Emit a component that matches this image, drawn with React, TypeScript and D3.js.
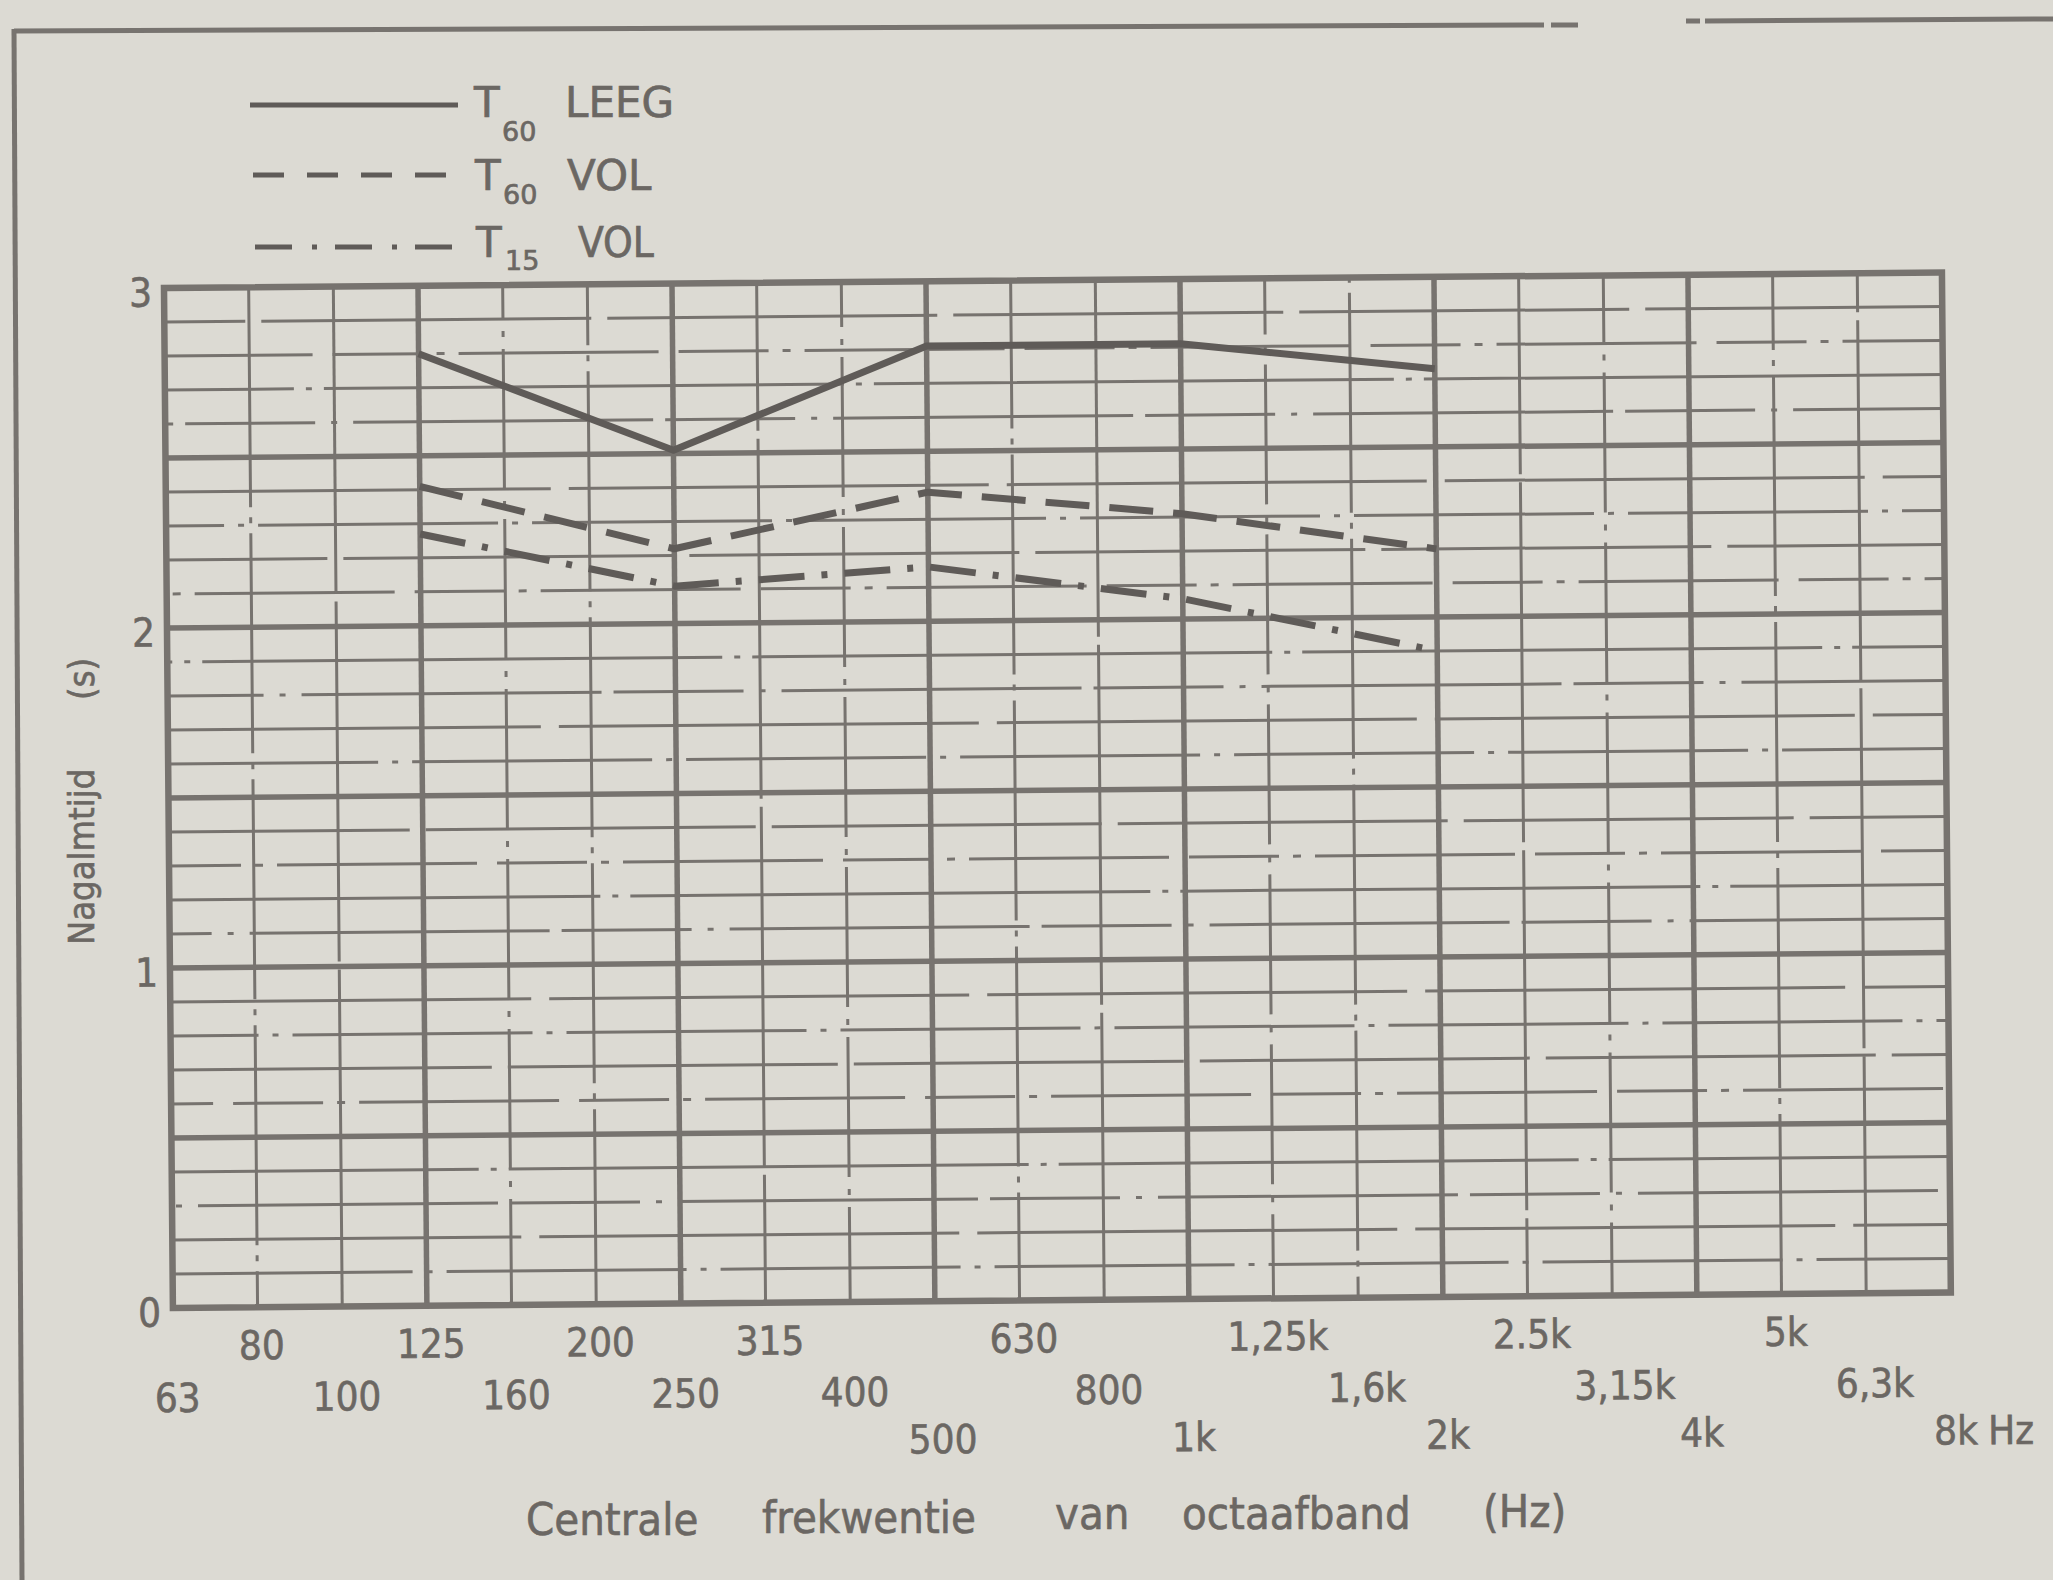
import * as d3 from "d3";
import React from "react";

// third-octave bands on the x axis
const bands = ["63", "80", "100", "125", "160", "200", "250", "315", "400", "500", "630", "800",
  "1k", "1,25k", "1,6k", "2k", "2.5k", "3,15k", "4k", "5k", "6,3k", "8k"];
const octaveBands = ["125", "250", "500", "1k", "2k", "4k"];

// measured reverberation times (s) per octave band
const dataBands = ["125", "250", "500", "1k", "2k"];
const t60Leeg = [2.8, 2.51, 2.81, 2.81, 2.73];
const t60Vol = [2.41, 2.22, 2.38, 2.31, 2.2];
const t15Vol = [2.27, 2.11, 2.16, 2.06, 1.9];

// tick labels, staggered in three rows
const labelRow1 = ["80", "125", "200", "315", "630", "1,25k", "2.5k", "5k"];
const labelRow2 = ["63", "100", "160", "250", "400", "800", "1,6k", "3,15k", "6,3k"];
const labelRow3 = ["500", "1k", "2k", "4k", "8k"];
const yTicks = [0, 1, 2, 3];

const titleWords = [
  { text: "Centrale", x: 526, y: 1535 },
  { text: "frekwentie", x: 762, y: 1533 },
  { text: "van", x: 1055, y: 1529 },
  { text: "octaafband", x: 1182, y: 1529 },
  { text: "(Hz)", x: 1483, y: 1527 },
];

const BG = "#dcdad3";
const GRID = "#77736f";
const INK = "#5f5b58";
const TEXT = "#6b6763";
const FONT = "'DejaVu Sans Condensed', 'DejaVu Sans', sans-serif";
const FONT_WIDE = "'DejaVu Sans', sans-serif";

const L = 164, T = 288, W = 1778, H = 1020;

const minorPatterns = ["240 14 6 14", "420 18", "130 16 6 16 300 12", "520 12 6 12", "90 14 8 14 200 20", "330 16"];

const labelShift: Record<string, number> = { "1,6k": 8, "3,15k": 12, "6,3k": 8, "500": 7 };

const App: React.FC = () => {
  const x = d3.scalePoint<string>().domain(bands).range([0, W]);
  const y = d3.scaleLinear().domain([0, 3]).range([H, 0]);

  const majorY = d3.range(0.5, 3, 0.5);
  const minorY = y.ticks(30).filter(v => Math.abs(v * 2 - Math.round(v * 2)) > 1e-6);
  const minorX = bands.filter(b => !octaveBands.includes(b) && b !== "63" && b !== "8k");

  const line = d3.line<number>()
    .x((_, i) => x(dataBands[i])!)
    .y(d => y(d));

  const series = [
    { values: t60Leeg, dash: "none" },
    { values: t60Vol, dash: "44 20" },
    { values: t15Vol, dash: "46 17 6 17" },
  ];

  const rows = [
    { labels: labelRow1, dy: 52 },
    { labels: labelRow2, dy: 104 },
    { labels: labelRow3, dy: 152 },
  ];

  return (
    <div style={{ position: "absolute", left: 0, top: 0 }}>
      <svg width={2053} height={1580} style={{ display: "block" }} fontFamily={FONT}>
        <rect width={2053} height={1580} fill={BG} />

        {/* outer frame */}
        <g stroke={GRID} strokeWidth={5} fill="none">
          <line x1={14} y1={31} x2={1544} y2={25} />
          <line x1={1551} y1={25} x2={1578} y2={25} />
          <line x1={1686} y1={21} x2={1700} y2={21} />
          <line x1={1705} y1={21} x2={2053} y2={19} />
          <line x1={14} y1={29} x2={22} y2={1580} />
        </g>

        {/* legend */}
        <g stroke={INK} strokeWidth={5}>
          <line x1={250} y1={105} x2={458} y2={105} />
          <line x1={253} y1={175} x2={446} y2={175} strokeDasharray="31 23" />
          <line x1={255} y1={247} x2={454} y2={247} strokeDasharray="37 20 5 18" />
        </g>
        <g fill={TEXT} stroke={TEXT} strokeWidth={0.7} fontFamily={FONT_WIDE}>
          <text x={474} y={117} fontSize={42}>T</text>
          <text x={502} y={141} fontSize={27}>60</text>
          <text x={565} y={117} fontSize={42}>LEEG</text>
          <text x={475} y={190} fontSize={42}>T</text>
          <text x={503} y={204} fontSize={27}>60</text>
          <text x={567} y={190} fontSize={42}>VOL</text>
          <text x={476} y={257} fontSize={42}>T</text>
          <text x={505} y={270} fontSize={27}>15</text>
          <text x={578} y={257} fontSize={42} fontFamily={FONT}>VOL</text>
        </g>

        {/* y axis title */}
        <g fill={TEXT} stroke={TEXT} strokeWidth={0.6} fontSize={36}>
          <text transform="translate(94,945) rotate(-90)">Nagalmtijd</text>
          <text transform="translate(94,700) rotate(-90)">(s)</text>
        </g>

        {/* x axis title */}
        <g fill={TEXT} stroke={TEXT} strokeWidth={0.6} fontSize={45}>
          {titleWords.map(w => (
            <text key={w.text} x={w.x} y={w.y}>{w.text}</text>
          ))}
        </g>

        <g transform={`rotate(-0.5, ${L}, ${T}) translate(${L},${T})`}>
          {/* minor horizontal grid (0.1 s) */}
          <g stroke={GRID} strokeWidth={3}>
            {minorY.map((v, i) => (
              <line key={v} x1={0} x2={W} y1={y(v)} y2={y(v)}
                strokeDasharray={minorPatterns[i % minorPatterns.length]}
                strokeDashoffset={i * 71} />
            ))}
          </g>
          {/* minor vertical grid (third octaves) */}
          <g stroke={GRID} strokeWidth={3}>
            {minorX.map((b, i) => (
              <line key={b} x1={x(b)} x2={x(b)} y1={0} y2={H}
                strokeDasharray={i % 3 === 0 ? "220 10 6 10" : i % 3 === 1 ? "360 8" : "140 12 6 12"}
                strokeDashoffset={i * 53} />
            ))}
          </g>
          {/* major grid */}
          <g stroke={GRID} strokeWidth={5.5}>
            {majorY.map(v => (
              <line key={v} x1={0} x2={W} y1={y(v)} y2={y(v)} />
            ))}
            {octaveBands.map(b => (
              <line key={b} x1={x(b)} x2={x(b)} y1={0} y2={H} />
            ))}
          </g>
          <rect x={0} y={0} width={W} height={H} fill="none" stroke={GRID} strokeWidth={6.5} />

          {/* data */}
          <g fill="none" stroke={INK} strokeWidth={7} strokeLinejoin="round">
            {series.map((s, i) => (
              <path key={i} d={line(s.values)!} strokeDasharray={s.dash} />
            ))}
          </g>

          {/* y tick labels */}
          <g fill={TEXT} stroke={TEXT} strokeWidth={0.6} fontSize={40} textAnchor="end">
            {yTicks.map(v => (
              <text key={v} x={-12} y={y(v) + 4} dy="0.36em">{v}</text>
            ))}
          </g>

          {/* x tick labels */}
          <g fill={TEXT} stroke={TEXT} strokeWidth={0.6} fontSize={40} textAnchor="middle">
            {rows.map(r => r.labels.map(b => (
              <text key={b} x={x(b)! + (labelShift[b] ?? 4)} y={H + r.dy}>{b}</text>
            )))}
            <text x={W + 36} y={H + 152} textAnchor="start">Hz</text>
          </g>
        </g>
      </svg>
    </div>
  );
};

export default App;
